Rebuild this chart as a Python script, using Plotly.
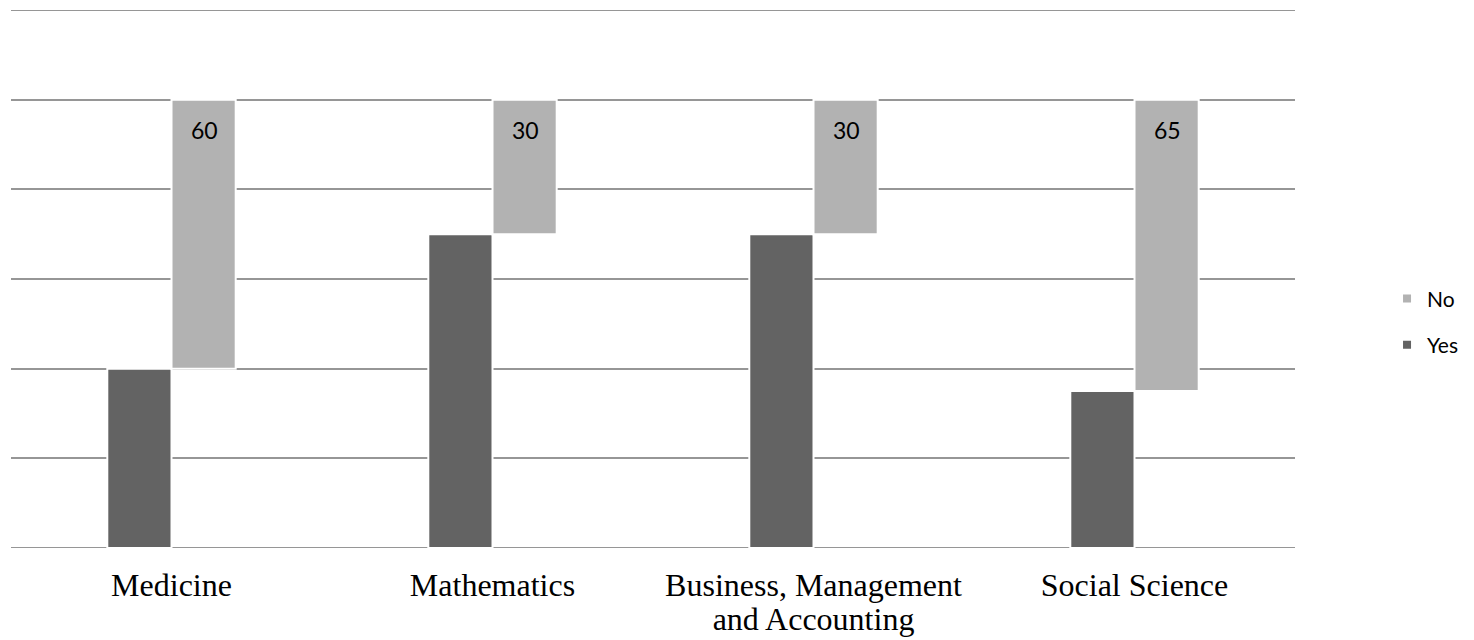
import plotly.graph_objects as go

# Survey answers per subject area (percent)
categories = ["Medicine", "Mathematics", "Business, Management<br>and Accounting", "Social Science"]
yes_values = [40, 70, 70, 35]
no_values = [60, 30, 30, 65]

YES_COLOR = "#636363"
NO_COLOR = "#b2b2b2"
GRID_COLOR = "#969696"
LABEL_PX = 32      # size of the category label glyphs
LINE_BASE_PX = 26  # base size that sets the spacing between label lines


def label_html(text):
    return "<br>".join(
        f"<span style='font-size:{LABEL_PX}px'>{part}</span>" for part in text.split("<br>")
    )


fig = go.Figure()

fig.add_trace(go.Bar(
    name="Yes", x=categories, y=yes_values,
    marker=dict(color=YES_COLOR, line=dict(color="white", width=2)),
    showlegend=False,
))

# "No" bars float on top of the "Yes" share, up to 100 %
fig.add_trace(go.Bar(
    name="No", x=categories, y=no_values, base=yes_values,
    marker=dict(color=NO_COLOR, line=dict(color="white", width=2)),
    showlegend=False,
))

# small square legend keys
for name, color, rank in [("No", NO_COLOR, 1), ("Yes", YES_COLOR, 2)]:
    fig.add_trace(go.Scatter(
        name=name, x=[None], y=[None], mode="markers",
        marker=dict(symbol="square", size=8, color=color),
        legendgroup=name, legendrank=rank, showlegend=True,
    ))

for cat, yv, nv in zip(categories, yes_values, no_values):
    fig.add_annotation(
        x=cat, y=yv + nv, text=str(nv),
        xshift=33, yshift=-14, yanchor="top", showarrow=False,
        font=dict(family="Lato, sans-serif", size=23, color="black"),
    )

# frame lines at the bottom and top of the value range
for yline in (0, 120):
    fig.add_shape(
        type="line", xref="paper", x0=0, x1=1, yref="y", y0=yline, y1=yline,
        line=dict(color=GRID_COLOR, width=2), layer="below",
    )

fig.update_layout(
    width=1474, height=640,
    margin=dict(l=11, r=179, t=10, b=92, autoexpand=False),
    paper_bgcolor="white",
    plot_bgcolor="white",
    barmode="group",
    bargap=0.6,
    bargroupgap=0,
    showlegend=True,
    legend=dict(
        xref="container", yref="container",
        x=0.941, y=0.497, xanchor="left", yanchor="middle",
        font=dict(family="Lato, sans-serif", size=21, color="black"),
        tracegroupgap=16,
        itemwidth=30,
    ),
    xaxis=dict(
        showgrid=False, zeroline=False, showline=False,
        ticks="", ticklabelstandoff=21,
        tickmode="array", tickvals=categories,
        ticktext=[label_html(c) for c in categories],
        tickfont=dict(family="Liberation Serif, Times New Roman, serif",
                      size=LINE_BASE_PX, color="black"),
    ),
    yaxis=dict(
        range=[0, 120], dtick=20,
        showgrid=True, gridcolor=GRID_COLOR, gridwidth=2,
        zeroline=False, showline=False, showticklabels=False, ticks="",
    ),
)

fig.write_html("out.html")
